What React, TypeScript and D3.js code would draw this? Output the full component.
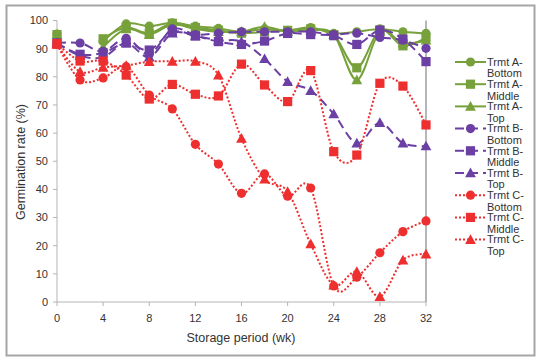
import React from 'react';
import * as d3 from 'd3';

// storage period (weeks)
const WEEKS = [0, 2, 4, 6, 8, 10, 12, 14, 16, 18, 20, 22, 24, 26, 28, 30, 32];

// germination rate (%), null = no reading
const A_BOTTOM = [95.2, null, 92.5, 98.8, 98.0, 99.2, 98.0, 97.2, 96.0, 97.0, 96.5, 97.5, 95.4, 96.0, 97.0, 96.0, 95.4];
const A_MIDDLE = [95.0, null, 93.5, 97.5, 95.5, 99.0, 97.5, 96.5, 95.5, 96.0, 96.5, 97.0, 95.0, 83.2, 96.5, 91.0, 93.9];
const A_TOP = [95.0, null, 90.5, 97.0, 95.0, 98.5, 97.0, 96.0, 96.0, 97.8, 96.0, 96.5, 95.0, 78.9, 96.0, 92.0, 93.0];
const B_BOTTOM = [92.0, 92.0, 89.0, 93.7, 88.0, 97.0, 95.0, 95.5, 96.0, 96.0, 96.0, 96.0, 95.0, 95.5, 94.0, 93.0, 90.1];
const B_MIDDLE = [92.0, 88.0, 88.5, 92.0, 89.5, 96.0, 94.5, 92.5, 91.5, 92.7, 95.4, 95.0, 94.6, 91.5, 96.6, 93.4, 85.4];
const B_TOP = [92.0, 87.5, 87.0, 92.0, 87.0, 95.5, 94.5, 93.0, 92.5, 86.4, 78.3, 75.1, 66.8, 56.4, 63.7, 56.4, 55.4];
const C_BOTTOM = [91.5, 78.9, 79.6, 83.6, 73.5, 68.6, 56.0, 49.0, 38.6, 45.5, 37.6, 40.5, 5.7, 8.8, 17.5, 25.0, 28.8];
const C_MIDDLE = [91.8, 85.6, 85.6, 80.6, 72.1, 77.3, 73.8, 73.2, 84.5, 77.1, 71.2, 82.2, 53.4, 52.2, 77.7, 76.7, 62.9];
const C_TOP = [91.5, 81.8, 83.3, 84.0, 85.4, 85.5, 85.5, 80.6, 58.1, 43.6, 39.2, 20.6, 6.0, 10.8, 1.9, 14.9, 17.0];

const Y_TICKS = [0, 10, 20, 30, 40, 50, 60, 70, 80, 90, 100];
const X_TICKS = [0, 4, 8, 12, 16, 20, 24, 28, 32];

const GREEN = '#77a13b';
const PURPLE = '#6b3fa3';
const RED = '#ee2f2f';
const FONT = '"Liberation Sans", Arial, sans-serif';

type Shape = 'circle' | 'square' | 'triangle';
type Series = { name: string[]; values: (number | null)[]; color: string; dash: string; shape: Shape };

const SERIES: Series[] = [
  { name: ['Trmt A-', 'Bottom'], values: A_BOTTOM, color: GREEN, dash: '', shape: 'circle' },
  { name: ['Trmt A-', 'Middle'], values: A_MIDDLE, color: GREEN, dash: '', shape: 'square' },
  { name: ['Trmt A-', 'Top'], values: A_TOP, color: GREEN, dash: '', shape: 'triangle' },
  { name: ['Trmt B-', 'Bottom'], values: B_BOTTOM, color: PURPLE, dash: '9,5', shape: 'circle' },
  { name: ['Trmt B-', 'Middle'], values: B_MIDDLE, color: PURPLE, dash: '9,5', shape: 'square' },
  { name: ['Trmt B-', 'Top'], values: B_TOP, color: PURPLE, dash: '9,5', shape: 'triangle' },
  { name: ['Trmt C-', 'Bottom'], values: C_BOTTOM, color: RED, dash: '2,2', shape: 'circle' },
  { name: ['Trmt C-', 'Middle'], values: C_MIDDLE, color: RED, dash: '2,2', shape: 'square' },
  { name: ['Trmt C-', 'Top'], values: C_TOP, color: RED, dash: '2,2', shape: 'triangle' },
];

function Marker({ x, y, shape, color }: { x: number; y: number; shape: Shape; color: string }) {
  if (shape === 'circle') return <circle cx={x} cy={y} r={4.6} fill={color} />;
  if (shape === 'square') return <rect x={x - 4.6} y={y - 4.6} width={9.2} height={9.2} fill={color} />;
  const s = 5.4;
  return <path d={`M${x},${y - s}L${x + s},${y + s * 0.8}L${x - s},${y + s * 0.8}Z`} fill={color} />;
}

export default function App() {
  const W = 542;
  const H = 364;
  const x = d3.scaleLinear().domain([0, 32]).range([57, 426]);
  const y = d3.scaleLinear().domain([0, 100]).range([302, 20.5]);

  // Excel-style smoothed lines
  const line = d3
    .line<[number, number | null]>()
    .defined((d) => d[1] !== null)
    .x((d) => x(d[0]))
    .y((d) => y(d[1] as number))
    .curve(d3.curveCatmullRom.alpha(0));

  const axisGray = '#b4b4b4';
  const textColor = '#333';

  return (
    <svg width={W} height={H} style={{ position: 'absolute', left: 0, top: 0, background: '#fff' }} fontFamily={FONT}>
      <rect x={6.5} y={5.5} width={528} height={350} fill="#fff" stroke="#a5a5a5" strokeWidth={2} />

      {/* y axis */}
      <line x1={x(0)} x2={x(0)} y1={y(0)} y2={y(100)} stroke={axisGray} strokeWidth={1} />
      {Y_TICKS.map((t) => (
        <g key={'y' + t}>
          <line x1={x(0) - 4} x2={x(0)} y1={y(t)} y2={y(t)} stroke={axisGray} />
          <text x={x(0) - 9} y={y(t)} dy="0.35em" textAnchor="end" fontSize={11} fill={textColor}>
            {t}
          </text>
        </g>
      ))}
      {/* x axis */}
      <line x1={x(0)} x2={x(32)} y1={y(0)} y2={y(0)} stroke={axisGray} strokeWidth={1} />
      {X_TICKS.map((t) => (
        <g key={'x' + t}>
          <line x1={x(t)} x2={x(t)} y1={y(0)} y2={y(0) + 4} stroke={axisGray} />
          <text x={x(t)} y={318} dy="0.35em" textAnchor="middle" fontSize={11} fill={textColor}>
            {t}
          </text>
        </g>
      ))}
      {/* right-hand line at 32 wk */}
      <line x1={x(32)} x2={x(32)} y1={y(0)} y2={y(100)} stroke="#6e6e6e" strokeWidth={1} />

      <text x={241} y={338} dy="0.35em" textAnchor="middle" fontSize={12.5} fill={textColor}>
        Storage period (wk)
      </text>
      <text
        transform={`translate(21,162) rotate(-90)`}
        dy="0.35em"
        textAnchor="middle"
        fontSize={12.5}
        fill={textColor}
      >
        Germination rate (%)
      </text>

      {SERIES.map((s) => {
        const pts = WEEKS.map((w, i) => [w, s.values[i]] as [number, number | null]);
        return (
          <g key={s.name.join('')}>
            <path
              d={line(pts) || ''}
              fill="none"
              stroke={s.color}
              strokeWidth={2}
              strokeDasharray={s.dash || undefined}
            />
            {pts
              .filter((p) => p[1] !== null)
              .map((p) => (
                <Marker key={p[0]} x={x(p[0])} y={y(p[1] as number)} shape={s.shape} color={s.color} />
              ))}
          </g>
        );
      })}

      {/* legend */}
      {SERIES.map((s, i) => {
        const ly = 62 + i * 22.2;
        return (
          <g key={'lg' + i}>
            <line x1={455} x2={486} y1={ly} y2={ly} stroke={s.color} strokeWidth={2} strokeDasharray={s.dash || undefined} />
            <Marker x={470.5} y={ly} shape={s.shape} color={s.color} />
            <text x={487} y={ly} dy="0.35em" fontSize={11} fill={textColor}>
              {s.name[0]}
            </text>
            <text x={487} y={ly + 11.5} dy="0.35em" fontSize={11} fill={textColor}>
              {s.name[1]}
            </text>
          </g>
        );
      })}
    </svg>
  );
}
